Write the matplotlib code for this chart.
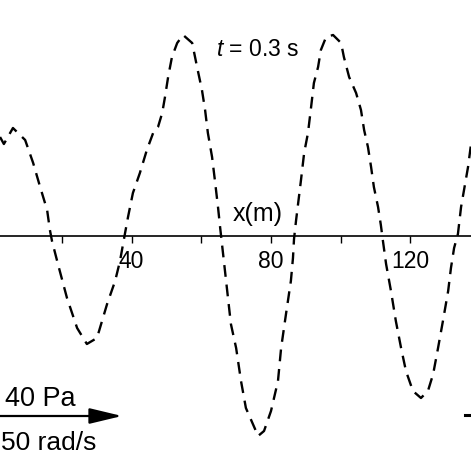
import matplotlib
matplotlib.use("Agg")
import matplotlib.pyplot as plt

plt.rcParams['font.family'] = ['Liberation Sans', 'DejaVu Sans']
plt.rcParams['mathtext.fontset'] = 'custom'
plt.rcParams['mathtext.it'] = 'Liberation Sans:italic'
plt.rcParams['mathtext.rm'] = 'Liberation Sans'

# wave snapshot at t = 0.3 s
x_pos = [2.3, 3.4, 6.0, 9.5, 11.8, 13.8, 15.8, 16.6, 17.2, 18.9, 21.5, 24.4,
         27.2, 30.1, 33.0, 35.3, 36.7, 38.1, 39.0, 40.4, 42.4, 44.4, 46.2,
         47.6, 48.8, 49.6, 50.5, 51.6, 53.1, 54.8, 57.4, 58.8, 60.2, 61.1,
         61.9, 63.1, 63.9, 64.8, 65.4, 68.5, 70.0, 71.4, 72.8, 76.3, 78.0,
         80.0, 82.0, 82.9, 84.3, 85.7, 86.3, 86.6, 87.2, 88.6, 89.5, 90.6,
         91.5, 92.3, 93.5, 94.3, 95.8, 97.8, 100.1, 100.9, 102.4, 104.4,
         105.8, 106.7, 107.8, 108.7, 109.5, 110.7, 111.5, 112.1, 113.0,
         114.4, 115.8, 117.3, 118.7, 120.7, 123.0, 125.0, 126.5, 127.9,
         129.3, 130.8, 131.6, 132.5, 133.6, 134.5, 136.5, 137.4]
pressure = [19.8, 18.4, 21.6, 19.2, 14.6, 9.8, 5.2, 1.2, -1.0, -5.6, -12.4, -18.4,
            -21.6, -20.4, -13.6, -9.0, -5.0, 0.4, 3.8, 8.6, 12.6, 17.2, 20.6,
            21.8, 24.6, 27.8, 31.8, 35.8, 38.6, 40.2, 38.6, 33.8, 29.2, 25.2,
            20.6, 15.8, 11.2, 5.8, 1.8, -17.6, -22.4, -29.0, -34.4, -40.0, -39.0,
            -35.0, -29.0, -22.4, -15.6, -9.0, -4.4, -0.6, 3.2, 11.2, 16.6, 20.6,
            25.8, 30.6, 33.8, 37.2, 39.8, 40.2, 38.6, 35.8, 31.8, 28.6,
            25.2, 21.2, 17.8, 13.8, 9.8, 5.8, 2.2, -1.0, -5.6,
            -11.0, -17.0, -22.4, -27.0, -31.0, -32.4, -31.0, -27.6, -22.4,
            -17.0, -11.0, -6.4, -2.4, 0.4, 5.8, 13.8, 18.6]

ticks = [20, 40, 60, 80, 100, 120]
tick_labels = ['', '40', '', '80', '', '120']

fig = plt.figure(figsize=(4.71, 4.71), dpi=100)
ax = fig.add_axes([0, 0, 1, 1])

ax.plot(x_pos, pressure, color='black', lw=1.7, linestyle=(0, (5, 3.3)))

ax.set_xlim(2.29, 137.35)
ax.set_ylim(-47.0, 47.2)

# x axis through zero, other spines hidden
for side in ['top', 'right', 'left']:
    ax.spines[side].set_visible(False)
ax.spines['bottom'].set_position(('data', 0))
ax.spines['bottom'].set_linewidth(1.2)
ax.set_yticks([])
ax.set_xticks(ticks)
ax.set_xticklabels(tick_labels)
ax.tick_params(axis='x', direction='out', length=5, width=1.0,
               labelsize=16.5, pad=5)

ax.text(0.459, 0.894, '$t$ = 0.3 s', transform=ax.transAxes,
        fontsize=16.5, va='center', ha='left')
ax.text(0.548, 0.546, 'x(m)', transform=ax.transAxes,
        fontsize=18, va='center', ha='center')

# wave direction arrow and labels at lower left
ax.text(76 / 471, 1 - 399 / 471, '40 Pa', transform=ax.transAxes,
        fontsize=19.5, va='center', ha='right')
ax.text(1 / 471, 1 - 443 / 471, '50 rad/s', transform=ax.transAxes,
        fontsize=19, va='center', ha='left')
ax.annotate('', xy=(122 / 471, 1 - 416 / 471), xytext=(-0.05, 1 - 416 / 471),
            xycoords='axes fraction', textcoords='axes fraction',
            arrowprops=dict(arrowstyle='-|>,head_length=1.0,head_width=0.24',
                            mutation_scale=20, lw=1.6, color='black',
                            shrinkA=0, shrinkB=0))
ax.plot([465 / 471, 1.02], [1 - 415 / 471, 1 - 415 / 471],
        transform=ax.transAxes, color='black', lw=2.2, clip_on=False)

fig.savefig('out.png', dpi=100)
